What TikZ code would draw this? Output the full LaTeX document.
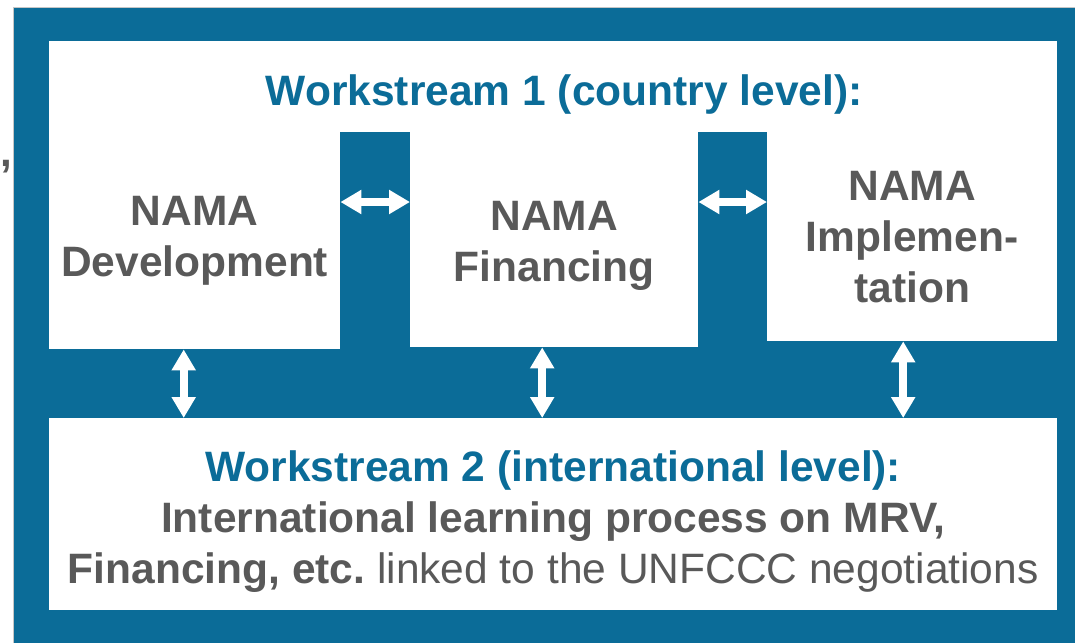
\documentclass[tikz,border=0pt]{standalone}
\usepackage{fontspec}
\setmainfont{Liberation Sans}
\frenchspacing
\usetikzlibrary{arrows.meta}
\definecolor{wsblue}{RGB}{11,108,152}
\definecolor{wsgray}{RGB}{89,89,89}
% pushes the text of a panel down by #1 pt
\newcommand\dropby[1]{\rule{0pt}{\numexpr31+2*#1\relax pt}}
\tikzset{
  panel/.style={fill=white, inner sep=0pt, anchor=north west, align=center,
    text=wsgray, font=\bfseries\fontsize{42.5}{51}\selectfont},
  link/.style={draw=white, line width=8pt,
    {Triangle[width=23pt,length=21pt]}-{Triangle[width=23pt,length=21pt]}}
}
\begin{document}
\begin{tikzpicture}[x=1pt,y=-1pt]
  \useasboundingbox (0,0) rectangle (1075,643);
  \fill[wsblue] (14,8) rectangle (1075,643);
  \draw[gray!45, line width=1.5pt] (13.5,643) -- (13.5,7.5) -- (1075,7.5);
  \node[text=wsgray, inner sep=0pt, anchor=base west,
    font=\bfseries\fontsize{42}{50}\selectfont] (comma) at (0,166) {,};
  % country level
  \node[panel, minimum width=1008pt, minimum height=91pt, text=wsblue] (ws1) at (49,41)
    {\hspace*{22pt}\dropby{8}Workstream 1 (country level):};
  \node[panel, minimum width=291pt, minimum height=217pt] (dev) at (49,132)
    {NAMA\\Development};
  \node[panel, minimum width=288pt, minimum height=215pt] (fin) at (410,132)
    {\dropby{5}NAMA\\Financing};
  \node[panel, minimum width=290pt, minimum height=209pt] (impl) at (767,132)
    {NAMA\\Implemen-\\tation};
  % international level
  \node[panel, minimum width=1008pt, minimum height=192pt] (ws2) at (49,418)
    {\dropby{7}\textcolor{wsblue}{Workstream 2 (international level):}\\
     International learning process on MRV,\\
     Financing, etc. \mdseries linked to the UNFCCC negotiations};
  % links
  \coordinate (h1) at (dev.east |- 0,202);
  \coordinate (h2) at (fin.east |- 0,202);
  \draw[link] (h1) -- (h1 -| fin.west);
  \draw[link] (h2) -- (h2 -| impl.west);
  \coordinate (v1) at ([xshift=-11pt]dev.south);
  \coordinate (v2) at ([xshift=-12pt]fin.south);
  \coordinate (v3) at ([xshift=-9pt]impl.south);
  \draw[link] (v1) -- (v1 |- ws2.north);
  \draw[link] (v2) -- (v2 |- ws2.north);
  \draw[link] (v3) -- (v3 |- ws2.north);
\end{tikzpicture}
\end{document}
